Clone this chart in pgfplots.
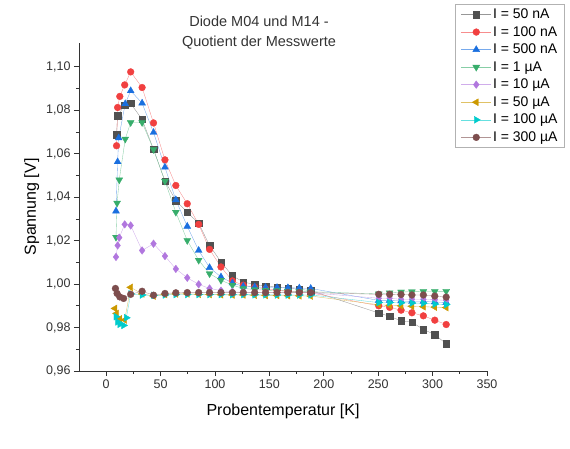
\documentclass[border=0pt]{standalone}
\usepackage{fontspec}
\setmainfont{Liberation Sans}
\usepackage{pgfplots}
\pgfplotsset{compat=1.18}
\definecolor{c1}{HTML}{515151}
\definecolor{c2}{HTML}{F14040}
\definecolor{c3}{HTML}{1A6FDF}
\definecolor{c4}{HTML}{37AD6B}
\definecolor{c5}{HTML}{B177DE}
\definecolor{c6}{HTML}{CC9900}
\definecolor{c7}{HTML}{00CBCC}
\definecolor{c8}{HTML}{7D4E4E}
\definecolor{axgray}{HTML}{333333}
\begin{document}
\begin{tikzpicture}
\path[use as bounding box] (0,0) rectangle (570pt,449pt);
\begin{axis}[
  at={(79pt,78pt)}, anchor=south west,
  scale only axis, width=408pt, height=328pt,
  xmin=-25, xmax=350, ymin=0.96, ymax=1.111,
  axis x line*=bottom, axis y line*=left,
  axis line style={axgray, line width=0.9pt, -},
  xtick={0,50,...,350}, ytick={0.96,0.98,...,1.10},
  minor x tick num=1, minor y tick num=1,
  tick align=outside, major tick length=5pt, minor tick length=3pt,
  tick style={axgray, line width=0.8pt},
  /pgf/number format/assume math mode=true,
  xticklabel style={font=\fontsize{12.5}{14}\selectfont, text=axgray},
  yticklabel style={font=\fontsize{12.5}{14}\selectfont, text=axgray,
    /pgf/number format/.cd, fixed, fixed zerofill, precision=2, use comma},
  scaled y ticks=false,
  xlabel={Probentemperatur [K]}, ylabel={Spannung [V]},
  label style={font=\fontsize{16}{18}\selectfont},
  xlabel style={yshift=-9pt},
  every axis plot/.append style={line width=0.35pt},
  legend style={at={(1.191,1.119)}, anchor=north east, draw=gray!60, line width=0.6pt,
    font=\fontsize{14}{15}\selectfont, row sep=3.1pt, inner xsep=5.5pt, inner ysep=3pt,
    nodes={inner sep=1.6pt}},
  legend cell align=left,
  legend image code/.code={\draw[mark repeat=2,mark phase=2] plot coordinates {(0pt,0pt) (15pt,0pt) (30pt,0pt)};},
  clip=false,
]
\addplot[c1!60, mark=square*, mark size=3.2pt, mark options={c1}] coordinates {
(9.5,1.0688)(10.5,1.0775)(17,1.0825)(22.5,1.0832)(33,1.0758)(43.5,1.0620)(54,1.0474)(64,1.0385)(74.5,1.0331)(85,1.0280)(95,1.0178)(105.5,1.0102)(116,1.0038)(126,1.0010)(136.5,0.9998)(146.5,0.9990)(157,0.9987)(167,0.9982)(177.5,0.9976)(188,0.9970)(250.5,0.9867)(260.5,0.9852)(271,0.9831)(281,0.9825)(291.5,0.9791)(302,0.9768)(312.5,0.9725)};
\addlegendentry{I = 50 nA}
\addplot[c2!60, mark=*, mark size=3.4pt, mark options={c2}] coordinates {
(9.5,1.0637)(10.5,1.0813)(12.5,1.0864)(17,1.0917)(22.5,1.0977)(33,1.0905)(43.5,1.0742)(54,1.0572)(64,1.0454)(74.5,1.0370)(85,1.0275)(95,1.0160)(105.5,1.0079)(116,1.0015)(126,0.9995)(136.5,0.9985)(146.5,0.9978)(157,0.9972)(167,0.9968)(177.5,0.9965)(188,0.9960)(250.5,0.9900)(260.5,0.9893)(271,0.9880)(281,0.9868)(291.5,0.9854)(302,0.9834)(312.5,0.9814)};
\addlegendentry{I = 100 nA}
\addplot[c3!60, mark=triangle*, mark size=4pt, mark options={c3}] coordinates {
(9,1.0336)(10.5,1.0563)(11.5,1.0673)(17.5,1.0830)(22.5,1.0890)(33,1.0833)(43.5,1.0698)(54,1.0538)(64,1.0388)(74.5,1.0266)(85,1.0155)(95,1.0076)(105.5,1.0033)(116,1.0005)(126,0.9990)(136.5,0.9987)(146.5,0.9985)(157,0.9984)(167,0.9983)(177.5,0.9982)(188,0.9980)(250.5,0.9925)(260.5,0.9925)(271,0.9922)(281,0.9920)(291.5,0.9920)(302,0.9918)(312.5,0.9915)};
\addlegendentry{I = 500 nA}
\addplot[c4!60, mark=triangle*, mark size=4pt, mark options={c4, rotate=180}] coordinates {
(9,1.0216)(10,1.0373)(12,1.0480)(17.5,1.0668)(22.5,1.0744)(33,1.0744)(43.5,1.0620)(54,1.0474)(64,1.0331)(74.5,1.0201)(85,1.0110)(95,1.0048)(105.5,1.0018)(116,0.9995)(126,0.9980)(136.5,0.9975)(146.5,0.9972)(157,0.9970)(167,0.9968)(177.5,0.9966)(188,0.9965)(250.5,0.9955)(260.5,0.9960)(271,0.9964)(281,0.9965)(291.5,0.9966)(302,0.9966)(312.5,0.9967)};
\addlegendentry{I = 1 µA}
\addplot[c5!60, mark=diamond*, mark size=3.8pt, mark options={c5}] coordinates {
(9,1.0125)(10.5,1.0178)(12,1.0214)(17,1.0275)(22.5,1.0270)(33,1.0155)(43.5,1.0186)(54,1.0129)(64,1.0070)(74.5,1.0029)(85,0.9999)(95,0.9980)(105.5,0.9970)(116,0.9965)(126,0.9962)(136.5,0.9960)(146.5,0.9960)(157,0.9960)(167,0.9960)(177.5,0.9960)(188,0.9960)(250.5,0.9935)(260.5,0.9935)(271,0.9930)(281,0.9930)(291.5,0.9930)(302,0.9928)(312.5,0.9925)};
\addlegendentry{I = 10 µA}
\addplot[c6!60, mark=triangle*, mark size=4pt, mark options={c6, rotate=90}] coordinates {
(8,0.9888)(9.5,0.9865)(12.5,0.9840)(17,0.9835)(22.5,0.9985)(33,0.9955)(43.5,0.9945)(54,0.9952)(64,0.9955)(74.5,0.9955)(85,0.9953)(95,0.9952)(105.5,0.9951)(116,0.9950)(126,0.9950)(136.5,0.9949)(146.5,0.9948)(157,0.9948)(167,0.9947)(177.5,0.9946)(188,0.9945)(250.5,0.9905)(260.5,0.9902)(271,0.9900)(281,0.9898)(291.5,0.9896)(302,0.9894)(312.5,0.9892)};
\addlegendentry{I = 50 µA}
\addplot[c7!60, mark=triangle*, mark size=4pt, mark options={c7, rotate=-90}] coordinates {
(9,0.9850)(10.5,0.9826)(12.5,0.9815)(16,0.9810)(18.5,0.9845)(22.5,0.9955)(33,0.9950)(43.5,0.9948)(54,0.9950)(64,0.9952)(74.5,0.9952)(85,0.9952)(95,0.9952)(105.5,0.9952)(116,0.9952)(126,0.9952)(136.5,0.9951)(146.5,0.9951)(157,0.9950)(167,0.9950)(177.5,0.9950)(188,0.9950)(250.5,0.9915)(260.5,0.9915)(271,0.9914)(281,0.9913)(291.5,0.9912)(302,0.9908)(312.5,0.9906)};
\addlegendentry{I = 100 µA}
\addplot[c8!60, mark=*, mark size=3.4pt, mark options={c8}] coordinates {
(8.5,0.9980)(10,0.9957)(12.5,0.9941)(16,0.9934)(22.5,0.9953)(33,0.9967)(43.5,0.9949)(54,0.9957)(64,0.9960)(74.5,0.9961)(85,0.9961)(95,0.9961)(105.5,0.9961)(116,0.9961)(126,0.9961)(136.5,0.9961)(146.5,0.9961)(157,0.9961)(167,0.9961)(177.5,0.9961)(188,0.9961)(250.5,0.9953)(260.5,0.9953)(271,0.9952)(281,0.9950)(291.5,0.9950)(302,0.9945)(312.5,0.9940)};
\addlegendentry{I = 300 µA}
\end{axis}
\node[align=center, font=\fontsize{14.5}{20}\selectfont, text=axgray] at (259pt,416pt) {Diode M04 und M14 -\\Quotient der Messwerte};
\end{tikzpicture}
\end{document}
